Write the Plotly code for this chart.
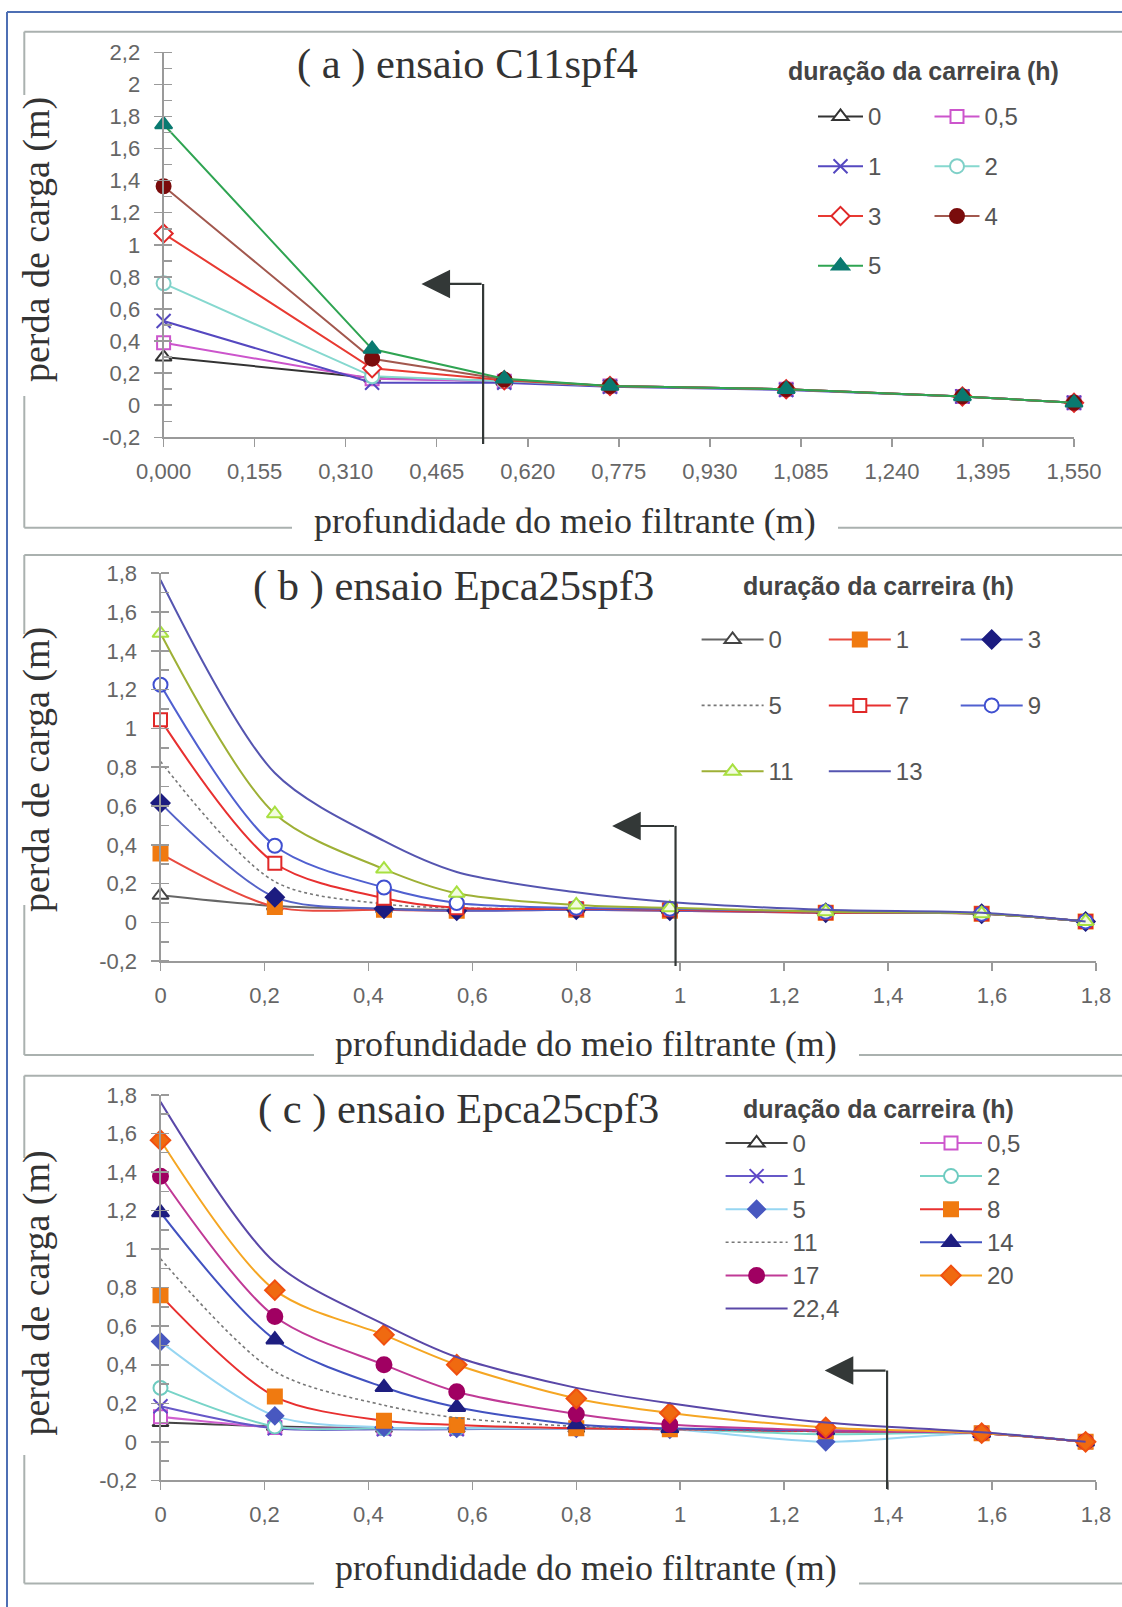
import plotly.graph_objects as go

W, H = 1122, 1607

# ------------------------------------------------------------------ data
# (a) ensaio C11spf4
x_a = [0, 0.355, 0.58, 0.76, 1.06, 1.36, 1.55]
a_0 = [0.30, 0.17, 0.15, 0.12, 0.10, 0.055, 0.015]
a_05 = [0.39, 0.165, 0.15, 0.12, 0.10, 0.055, 0.015]
a_1 = [0.525, 0.14, 0.14, 0.115, 0.095, 0.055, 0.015]
a_2 = [0.76, 0.18, 0.15, 0.12, 0.10, 0.055, 0.015]
a_3 = [1.07, 0.23, 0.155, 0.12, 0.10, 0.055, 0.015]
a_4 = [1.365, 0.29, 0.16, 0.12, 0.10, 0.055, 0.015]
a_5 = [1.75, 0.35, 0.165, 0.12, 0.10, 0.055, 0.015]

# (b) ensaio Epca25spf3
x_b = [0, 0.22, 0.43, 0.57, 0.80, 0.98, 1.28, 1.58, 1.78]
b_0 = [0.14, 0.085, 0.07, 0.065, 0.07, 0.065, 0.055, 0.045, 0.005]
b_1 = [0.355, 0.08, 0.065, 0.06, 0.065, 0.06, 0.05, 0.045, 0.005]
b_3 = [0.615, 0.13, 0.07, 0.06, 0.065, 0.06, 0.05, 0.045, 0.005]
b_5 = [0.83, 0.21, 0.095, 0.075, 0.07, 0.065, 0.05, 0.045, 0.005]
b_7 = [1.045, 0.305, 0.125, 0.075, 0.07, 0.065, 0.05, 0.045, 0.005]
b_9 = [1.225, 0.395, 0.18, 0.10, 0.075, 0.07, 0.055, 0.045, 0.005]
b_11 = [1.49, 0.56, 0.275, 0.15, 0.09, 0.075, 0.055, 0.045, 0.005]
b_13 = [1.765, 0.77, 0.42, 0.26, 0.155, 0.105, 0.065, 0.05, 0.005]

# (c) ensaio Epca25cpf3
x_c = [0, 0.22, 0.43, 0.57, 0.80, 0.98, 1.28, 1.58, 1.78]
c_0 = [0.10, 0.08, 0.07, 0.07, 0.07, 0.065, 0.055, 0.045, 0.0]
c_05 = [0.13, 0.075, 0.07, 0.07, 0.07, 0.065, 0.055, 0.045, 0.0]
c_1 = [0.185, 0.07, 0.065, 0.065, 0.07, 0.065, 0.055, 0.045, 0.0]
c_2 = [0.28, 0.08, 0.07, 0.07, 0.07, 0.065, 0.04, 0.045, 0.0]
c_5 = [0.52, 0.135, 0.075, 0.07, 0.07, 0.065, 0.0, 0.045, 0.0]
c_8 = [0.76, 0.235, 0.11, 0.088, 0.07, 0.065, 0.055, 0.045, 0.0]
c_11 = [0.95, 0.365, 0.19, 0.125, 0.08, 0.065, 0.055, 0.045, 0.0]
c_14 = [1.19, 0.53, 0.283, 0.18, 0.09, 0.07, 0.06, 0.045, 0.0]
c_17 = [1.378, 0.65, 0.40, 0.26, 0.145, 0.09, 0.06, 0.045, 0.0]
c_20 = [1.565, 0.787, 0.555, 0.40, 0.225, 0.15, 0.075, 0.045, 0.0]
c_224 = [1.764, 0.93, 0.61, 0.44, 0.28, 0.20, 0.10, 0.05, 0.0]

# tick labels
x_ticks_a = [0, 0.155, 0.31, 0.465, 0.62, 0.775, 0.93, 1.085, 1.24, 1.395, 1.55]
x_labels_a = ["0,000", "0,155", "0,310", "0,465", "0,620", "0,775", "0,930",
              "1,085", "1,240", "1,395", "1,550"]
y_ticks_a = [-0.2, 0, 0.2, 0.4, 0.6, 0.8, 1.0, 1.2, 1.4, 1.6, 1.8, 2.0, 2.2]
y_labels_a = ["-0,2", "0", "0,2", "0,4", "0,6", "0,8", "1", "1,2", "1,4",
              "1,6", "1,8", "2", "2,2"]
x_ticks_bc = [0, 0.2, 0.4, 0.6, 0.8, 1.0, 1.2, 1.4, 1.6, 1.8]
x_labels_bc = ["0", "0,2", "0,4", "0,6", "0,8", "1", "1,2", "1,4", "1,6", "1,8"]
y_ticks_bc = [-0.2, 0, 0.2, 0.4, 0.6, 0.8, 1.0, 1.2, 1.4, 1.6, 1.8]
y_labels_bc = ["-0,2", "0", "0,2", "0,4", "0,6", "0,8", "1", "1,2", "1,4", "1,6", "1,8"]

titles = ["( a ) ensaio C11spf4", "( b ) ensaio Epca25spf3", "( c ) ensaio Epca25cpf3"]
legend_title = "duração da carreira (h)"
x_title = "profundidade do meio filtrante (m)"
y_title = "perda de carga (m)"

# ------------------------------------------------------------------ styles
def px(x):
    return x / W


def py(y):
    return 1 - y / H


def mk(symbol, color, fill=None, size=14, lw=2):
    return dict(symbol=symbol, size=size, color=fill if fill else color,
                line=dict(color=color, width=lw))


fig = go.Figure()


def add(x, y, name, lcolor, marker, ax, leg, dash="solid", shape="linear", lw=2):
    mode = "lines+markers" if marker else "lines"
    fig.add_trace(go.Scatter(
        x=x, y=y, mode=mode,
        name='<span style="font-size:24px">' + name + "</span>",
        line=dict(color=lcolor, width=lw, dash=dash, shape=shape, smoothing=0.85),
        marker=marker if marker else None,
        xaxis="x" + ax, yaxis="y" + ax, legend=leg,
        legendgroup=leg + "_" + name, cliponaxis=False, showlegend=True,
    ))


W_ = "white"
# panel a
add(x_a, a_0, "0", "#333333", mk("triangle-up", "#333333", W_), "", "legend")
add(x_a, a_05, "0,5", "#cc55cc", mk("square", "#cc55cc", W_, size=13), "", "legend2")
add(x_a, a_1, "1", "#5548c0", mk("x-thin", "#5548c0"), "", "legend")
add(x_a, a_2, "2", "#86d8cf", mk("circle", "#7fd0c8", W_), "", "legend2")
add(x_a, a_3, "3", "#e83a32", mk("diamond", "#e02828", W_), "", "legend")
add(x_a, a_4, "4", "#a2584e", mk("circle", "#7a0c0c", "#7a0c0c"), "", "legend2")
add(x_a, a_5, "5", "#2fa452", mk("triangle-up", "#0a7a70", "#0a7a70", size=15), "", "legend")

# panel b
S = "spline"
add(x_b, b_0, "0", "#666666", mk("triangle-up", "#444444", W_), "2", "legend3", shape=S)
add(x_b, b_1, "1", "#e84a40", mk("square", "#f07a10", "#f07a10"), "2", "legend4", shape=S)
add(x_b, b_3, "3", "#5563c8", mk("diamond", "#1c1c80", "#1c1c80"), "2", "legend5", shape=S)
add(x_b, b_5, "5", "#777777", None, "2", "legend3", dash="dot", shape=S, lw=1.6)
add(x_b, b_7, "7", "#e83030", mk("square", "#e02828", W_, size=13), "2", "legend4", shape=S)
add(x_b, b_9, "9", "#5060d0", mk("circle", "#4050d0", W_), "2", "legend5", shape=S)
add(x_b, b_11, "11", "#9eb036", mk("triangle-up", "#a8e040", "#f2fbe0"), "2", "legend3", shape=S)
add(x_b, b_13, "13", "#5555b0", None, "2", "legend4", shape=S)

# panel c
add(x_c, c_0, "0", "#444444", mk("triangle-up", "#333333", W_), "3", "legend6", shape=S)
add(x_c, c_05, "0,5", "#d060d0", mk("square", "#cc55cc", W_, size=13), "3", "legend7", shape=S)
add(x_c, c_1, "1", "#6658c8", mk("x-thin", "#6048c8"), "3", "legend6", shape=S)
add(x_c, c_2, "2", "#78d4c8", mk("circle", "#6ecbc0", W_), "3", "legend7", shape=S)
add(x_c, c_5, "5", "#96d6f2", mk("diamond", "#4858c0", "#4858c0", size=13), "3", "legend6", shape=S)
add(x_c, c_8, "8", "#e83030", mk("square", "#f07a10", "#f07a10"), "3", "legend7", shape=S)
add(x_c, c_11, "11", "#777777", None, "3", "legend6", dash="dot", shape=S, lw=1.6)
add(x_c, c_14, "14", "#4252c0", mk("triangle-up", "#1e1e80", "#1e1e80", size=15), "3", "legend7", shape=S)
add(x_c, c_17, "17", "#c03a96", mk("circle", "#a00062", "#a00062", size=15), "3", "legend6", shape=S)
add(x_c, c_20, "20", "#f5a623", mk("diamond", "#f05010", "#f06a10", size=15), "3", "legend7", shape=S)
add(x_c, c_224, "22,4", "#5a48a8", None, "3", "legend6", shape=S)

# ------------------------------------------------------------------ axes
TICKFONT = dict(family="Liberation Sans, Arial, sans-serif", size=22, color="#666666")
AXC = "#9a9a9a"


def xax(domain, anchor, rng, tv, tt):
    return dict(domain=domain, anchor=anchor, range=rng, tickvals=tv, ticktext=tt,
                showline=True, linecolor=AXC, linewidth=2, ticks="outside", ticklen=8,
                tickcolor=AXC, tickwidth=1.5, showgrid=False, zeroline=False,
                tickfont=TICKFONT, ticklabelstandoff=5, fixedrange=True,
                automargin=False)


def yax(domain, anchor, rng, tv, tt):
    return dict(domain=domain, anchor=anchor, range=rng, tickvals=tv, ticktext=tt,
                showline=True, linecolor=AXC, linewidth=2, ticks="outside", ticklen=8,
                tickcolor=AXC, tickwidth=1.5, showgrid=False, zeroline=False,
                tickfont=TICKFONT, ticklabelstandoff=9,
                minor=dict(ticks="inside", dtick=0.1, tick0=0, ticklen=8,
                           tickcolor=AXC, tickwidth=1.5, showgrid=False),
                fixedrange=True, automargin=False)


xa_dom = [px(163.6), px(1074.3)]
ya_dom = [py(437.3), py(52.3)]
xb_dom = [px(160.5), px(1096.0)]
yb_dom = [py(961.2), py(573.2)]
yc_dom = [py(1480.4), py(1094.9)]

fig.update_layout(
    xaxis=xax(xa_dom, "y", [0, 1.5505], x_ticks_a, x_labels_a),
    yaxis=yax(ya_dom, "x", [-0.2, 2.2], y_ticks_a, y_labels_a),
    xaxis2=xax(xb_dom, "y2", [0, 1.8], x_ticks_bc, x_labels_bc),
    yaxis2=yax(yb_dom, "x2", [-0.2, 1.8], y_ticks_bc, y_labels_bc),
    xaxis3=xax(xb_dom, "y3", [0, 1.8], x_ticks_bc, x_labels_bc),
    yaxis3=yax(yc_dom, "x3", [-0.2, 1.8], y_ticks_bc, y_labels_bc),
)

# ------------------------------------------------------------------ legends
LEGFONT = dict(family="Liberation Sans, Arial, sans-serif", size=22, color="#555555")


def leg(xp, ypx, gap, itemw):
    return dict(x=px(xp), y=py(ypx), xanchor="left", yanchor="top",
                orientation="v", traceorder="grouped", tracegroupgap=gap,
                bgcolor="rgba(0,0,0,0)", borderwidth=0, font=LEGFONT,
                itemwidth=itemw, itemclick=False, itemdoubleclick=False)


fig.update_layout(
    legend=leg(813, 95.6, 18.2, 45),
    legend2=leg(929.5, 95.6, 18.2, 45),
    legend3=leg(696.6, 618.7, 34.3, 62),
    legend4=leg(823.8, 618.7, 34.3, 62),
    legend5=leg(955.7, 618.7, 34.3, 62),
    legend6=leg(720.6, 1122.2, 1.5, 62),
    legend7=leg(915, 1122.2, 1.5, 62),
)

# ------------------------------------------------------------------ text
ann = []
SERIF = "Liberation Serif, Times New Roman, serif"
TCOL = "#333333"
for t, (cx, cy) in zip(titles, [(467, 63.6), (453.4, 586.4), (458, 1108.8)]):
    ann.append(dict(text=t, x=px(cx), y=py(cy), xref="paper", yref="paper",
                    xanchor="center", yanchor="middle", showarrow=False,
                    font=dict(family=SERIF, size=42.5, color=TCOL)))
for cx, cy in [(923.3, 70.6), (878.9, 586.4), (878.9, 1108.8)]:
    ann.append(dict(text="<b>" + legend_title + "</b>", x=px(cx), y=py(cy),
                    xref="paper", yref="paper", xanchor="center", yanchor="middle",
                    showarrow=False,
                    font=dict(family="Liberation Sans, Arial, sans-serif", size=25,
                              color="#444444")))
for cx, cy in [(565, 521), (586, 1044), (586, 1568)]:
    ann.append(dict(text=x_title, x=px(cx), y=py(cy), xref="paper", yref="paper",
                    xanchor="center", yanchor="middle", showarrow=False,
                    font=dict(family=SERIF, size=36, color=TCOL)))
for cx, cy in [(36, 240), (36, 770), (36, 1293.5)]:
    ann.append(dict(text=y_title, x=px(cx), y=py(cy), xref="paper", yref="paper",
                    xanchor="center", yanchor="middle", showarrow=False, textangle=-90,
                    font=dict(family=SERIF, size=38, color=TCOL)))

# arrows (axis x position, corner / bottom in pixels, tip x in data units)
arrows = [
    ("x", "y", 0.544, 0.439, 284.0, 444.0, 0.756),
    ("x2", "y2", 0.991, 0.869, 825.9, 966.0, 0.497),
    ("x3", "y3", 1.398, 1.278, 1370.5, 1489.0, 0.37),
]
shapes = []
ACOL = "#333837"
for xr, yr, xv, tip, ycorner, ybot, yval in arrows:
    shapes.append(dict(type="line", xref=xr, yref="paper", x0=xv, x1=xv,
                       y0=py(ybot), y1=py(ycorner), line=dict(color=ACOL, width=2.2)))
    ann.append(dict(text="", x=tip, y=yval, xref=xr, yref=yr, ax=xv, ay=yval,
                    axref=xr, ayref=yr, showarrow=True, arrowhead=2, arrowsize=2.6,
                    arrowwidth=2.2, arrowcolor=ACOL, standoff=0))

# frames
FR = "#aab1af"
frames = [
    # top, bottom, left-gap, bottom-gap
    (31.7, 527.7, (95, 396), (292, 838)),
    (555.0, 1055.0, (634, 905), (314, 859)),
    (1075.7, 1583.4, (1158, 1455), (314, 859)),
]
XL = 24.3
for top, bot, (g0, g1), (b0, b1) in frames:
    segs = [((XL, top), (W, top)), ((XL, top), (XL, g0)), ((XL, g1), (XL, bot)),
            ((XL, bot), (b0, bot)), ((b1, bot), (W, bot))]
    for (x0, y0), (x1, y1) in segs:
        shapes.append(dict(type="line", xref="paper", yref="paper",
                           x0=px(x0), y0=py(y0), x1=px(x1), y1=py(y1),
                           line=dict(color=FR, width=2)))
# outer blue border
BL = "#4e6fb4"
shapes.append(dict(type="line", xref="paper", yref="paper", x0=px(7), y0=py(12),
                   x1=px(W), y1=py(12), line=dict(color=BL, width=2)))
shapes.append(dict(type="line", xref="paper", yref="paper", x0=px(7), y0=py(12),
                   x1=px(7), y1=py(H), line=dict(color=BL, width=2)))

fig.update_layout(
    width=W, height=H,
    margin=dict(l=0, r=0, t=0, b=0, pad=0, autoexpand=False),
    paper_bgcolor="white", plot_bgcolor="white",
    annotations=ann, shapes=shapes, showlegend=True,
    font=dict(family="Liberation Sans, Arial, sans-serif"),
)

fig.write_html("out.html",
               config={"displayModeBar": False, "staticPlot": True},
               post_script="document.body.style.margin='0';document.body.style.padding='0';")
